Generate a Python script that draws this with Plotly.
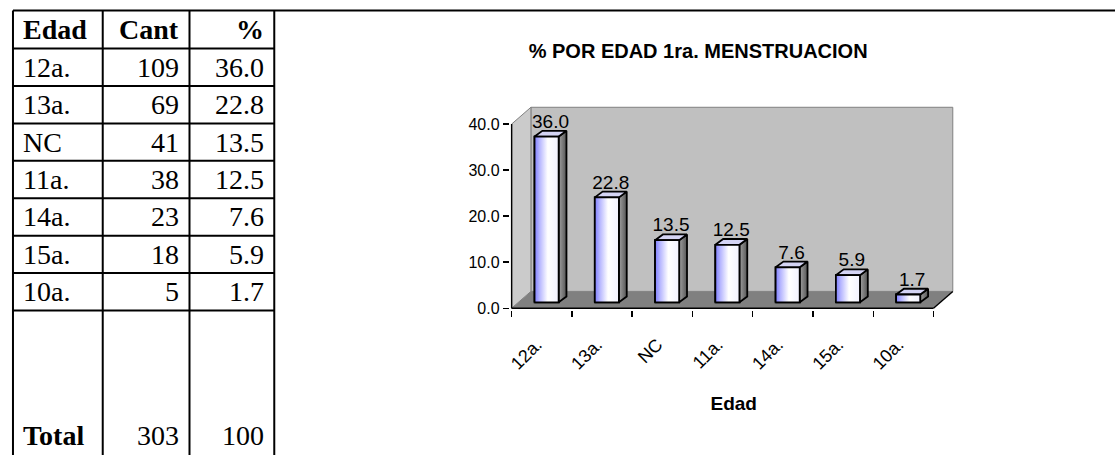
import plotly.graph_objects as go

# ---------------- data ----------------
edad = ["12a.", "13a.", "NC", "11a.", "14a.", "15a.", "10a."]
cant = [109, 69, 41, 38, 23, 18, 5]
pct = [36.0, 22.8, 13.5, 12.5, 7.6, 5.9, 1.7]
total_label = "Total"
total_cant = 303
total_pct = 100
encabezado = ["Edad", "Cant", "%"]
y_ticks = [0, 10, 20, 30, 40]
titulo = "% POR EDAD 1ra. MENSTRUACION"
eje_x = "Edad"

# ---------------- layout constants ----------------
W, H = 1115, 457
SANS = "Liberation Sans, Arial, sans-serif"
SERIF = "Liberation Serif, Times New Roman, serif"

n = len(edad)
X0, X1 = -0.5, n - 0.5
YMAX = max(y_ticks)
DX, DY = 0.32, 3.65        # depth of the 3-D box (axis units)
BW = 0.40                  # bar front width
BOX, BOY = 0.08, 1.28      # bar front offset into the box
BDX, BDY = 0.13, 1.25      # bar depth

XR = [-0.53, X1 + 0.40]
YR = [-0.3, YMAX + 4.2]

PX_X0, PX_PER_CAT = 510.0, 60.43
PX_Y0, PX_PER_UNIT = 313.0, 4.675

# table geometry (pixels)
COLS = [10, 100, 187, 272]
TOP = 10.7
HEAD_H = 38.6
ROW_H = 38.0
TOTAL_Y = 442.0
PAD = 8.5


def dom_x(v):
    return (PX_X0 + (v - X0) * PX_PER_CAT) / W


def dom_y(v):
    return 1 - (PX_Y0 - v * PX_PER_UNIT) / H


def px(x):
    return x / W


def py(y):
    return 1 - y / H


fig = go.Figure()
shapes = []
annotations = []

# ---------------- table (left) ----------------
row_lines = [TOP, TOP + HEAD_H] + [TOP + HEAD_H + ROW_H * (k + 1) for k in range(n)]
for y in row_lines:
    x_end = W if y == TOP else COLS[-1]
    shapes.append(dict(type="line", xref="paper", yref="paper",
                       x0=px(COLS[0]), x1=px(x_end), y0=py(y), y1=py(y),
                       line=dict(color="black", width=2)))
for x in COLS:
    shapes.append(dict(type="line", xref="paper", yref="paper",
                       x0=px(x), x1=px(x), y0=py(TOP), y1=py(H + 5),
                       line=dict(color="black", width=2)))

aligns = ["left", "right", "right"]


def cell_text(col, yc, text):
    if aligns[col] == "left":
        xx, xa = COLS[col] + PAD, "left"
    else:
        xx, xa = COLS[col + 1] - PAD, "right"
    annotations.append(dict(x=px(xx), y=py(yc), xref="paper", yref="paper",
                            xanchor=xa, yanchor="middle", showarrow=False,
                            text=text,
                            font=dict(family=SERIF, size=28, color="black")))


for c, h in enumerate(encabezado):
    cell_text(c, TOP + HEAD_H / 2, "<b>%s</b>" % h)
for r in range(n):
    yc = TOP + HEAD_H + ROW_H * (r + 0.5)
    cell_text(0, yc, edad[r])
    cell_text(1, yc, str(cant[r]))
    cell_text(2, yc, "%.1f" % pct[r])
cell_text(0, TOTAL_Y, "<b>%s</b>" % total_label)
cell_text(1, TOTAL_Y, str(total_cant))
cell_text(2, TOTAL_Y, str(total_pct))

# ---------------- 3-D box (walls / floor) ----------------
def poly(pts):
    return "M " + " L ".join("%g,%g" % p for p in pts) + " Z"


shapes += [
    dict(type="rect", xref="x", yref="y", layer="below",
         x0=X0 + DX, x1=X1 + DX, y0=DY, y1=YMAX + DY,
         fillcolor="#c0c0c0", line=dict(color="#808080", width=1)),
    dict(type="path", xref="x", yref="y", layer="below",
         path=poly([(X0, 0), (X0, YMAX), (X0 + DX, YMAX + DY), (X0 + DX, DY)]),
         fillcolor="#cbcbcb", line=dict(color="#808080", width=1)),
    dict(type="path", xref="x", yref="y", layer="below",
         path=poly([(X0, 0), (X1, 0), (X1 + DX, DY), (X0 + DX, DY)]),
         fillcolor="#808080", line=dict(width=0)),
    dict(type="line", xref="x", yref="y", layer="below",
         x0=X0, x1=X0, y0=0, y1=YMAX, line=dict(color="black", width=1.4)),
    dict(type="line", xref="x", yref="y", layer="below",
         x0=X0, x1=X1, y0=0, y1=0, line=dict(color="black", width=1.4)),
    dict(type="line", xref="x", yref="y", layer="below",
         x0=X1, x1=X1 + DX, y0=0, y1=DY, line=dict(color="black", width=1.4)),
]

# ---------------- bars ----------------
xs = [i + BOX for i in range(n)]
fig.add_trace(go.Bar(
    x=xs, y=pct, base=BOY, width=BW,
    marker=dict(color="white", line=dict(color="black", width=1.8)),
    hoverinfo="skip", showlegend=False,
))

for i, v in enumerate(pct):
    fx0 = xs[i] - BW / 2
    fx1 = xs[i] + BW / 2
    yb = BOY
    yt = BOY + v
    # side face
    fig.add_trace(go.Scatter(
        x=[fx1, fx1 + BDX, fx1 + BDX, fx1, fx1],
        y=[yb, yb + BDY, yt + BDY, yt, yb],
        mode="lines", fill="toself",
        fillgradient=dict(type="horizontal",
                          colorscale=[[0, "#a0a0a0"], [1, "#555555"]]),
        line=dict(color="black", width=1.8),
        hoverinfo="skip", showlegend=False))
    # top face
    fig.add_trace(go.Scatter(
        x=[fx0, fx1, fx1 + BDX, fx0 + BDX, fx0],
        y=[yt, yt, yt + BDY, yt + BDY, yt],
        mode="lines", fill="toself", fillcolor="#d4d4f4",
        line=dict(color="black", width=1.8),
        hoverinfo="skip", showlegend=False))
    # front face (gradient)
    fig.add_trace(go.Scatter(
        x=[fx0, fx1, fx1, fx0, fx0],
        y=[yb, yb, yt, yt, yb],
        mode="lines", fill="toself",
        fillgradient=dict(type="horizontal",
                          colorscale=[[0, "#7c7cff"], [0.2, "#b4b4ff"],
                                      [0.55, "#ffffff"], [1, "#f2f2ff"]]),
        line=dict(color="black", width=1.8),
        hoverinfo="skip", showlegend=False))

# data labels
fig.add_trace(go.Scatter(
    x=[x + BDX / 2 for x in xs],
    y=[BOY + v + BDY * 0.7 for v in pct],
    mode="text",
    text=["%.1f" % v for v in pct],
    textposition="top center",
    textfont=dict(family=SANS, size=19, color="black"),
    cliponaxis=False, hoverinfo="skip", showlegend=False,
))

fig.update_layout(
    width=W, height=H,
    margin=dict(l=0, r=0, t=0, b=0),
    paper_bgcolor="white", plot_bgcolor="white",
    showlegend=False,
    bargap=0,
    shapes=shapes,
    annotations=annotations,
    font=dict(family=SANS, color="black"),
    title=dict(text="<b>%s</b>" % titulo, x=697 / W, y=1 - 52 / H,
               xanchor="center", yanchor="middle", xref="paper", yref="paper",
               font=dict(family=SANS, size=20, color="black")),
    xaxis=dict(
        domain=[dom_x(XR[0]), dom_x(XR[1])], range=XR,
        showgrid=False, zeroline=False, showline=False,
        tickmode="array", tickvals=list(range(n)), ticktext=edad,
        ticks="", tickangle=-45, ticklabelstandoff=20, ticklabelshift=-5,
        tickfont=dict(family=SANS, size=18, color="black"),
        minor=dict(tickmode="array", tickvals=[i - 0.5 for i in range(n + 1)],
                   ticks="outside", ticklen=6, tickcolor="black", tickwidth=1.4,
                   showgrid=False),
        title=dict(text="<b>%s</b>" % eje_x, standoff=24,
                   font=dict(family=SANS, size=19, color="black")),
        fixedrange=True,
    ),
    yaxis=dict(
        domain=[dom_y(YR[0]), dom_y(YR[1])], range=YR,
        showgrid=False, zeroline=False, showline=False,
        tickmode="array", tickvals=y_ticks, ticktext=["%.1f" % t for t in y_ticks],
        ticks="outside", ticklen=6, tickcolor="black", tickwidth=1.4,
        tickfont=dict(family=SANS, size=16, color="black"),
        fixedrange=True,
    ),
)

fig.write_html("out.html",
               config={"displayModeBar": False, "staticPlot": True},
               post_script="document.body.style.margin='0';document.body.style.overflow='hidden';")
